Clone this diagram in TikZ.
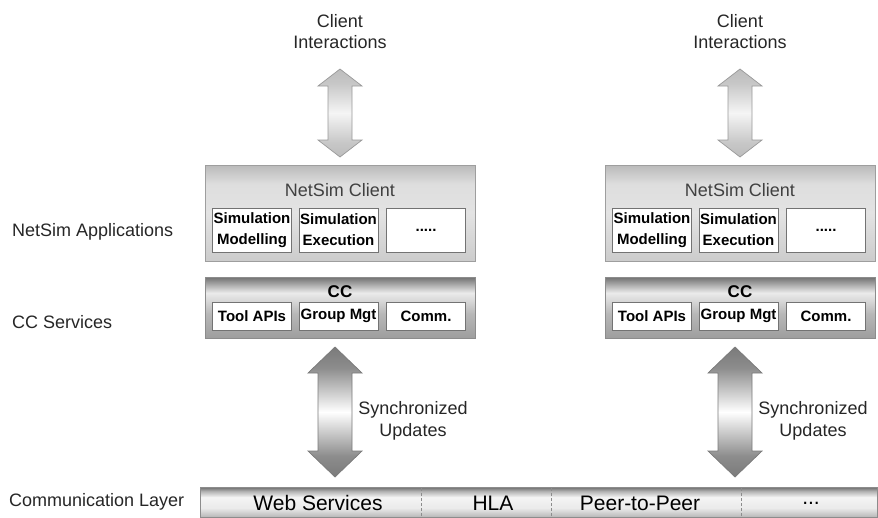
\documentclass[tikz,border=0pt]{standalone}
\usepackage{fontspec}
\setmainfont{Liberation Sans}
\usetikzlibrary{calc}
\pgfdeclareverticalshading{syncsh}{100bp}{color(0bp)=(black!52); color(25bp)=(black!52); color(33bp)=(black!45); color(50bp)=(white); color(67bp)=(black!45); color(75bp)=(black!52); color(100bp)=(black!52)}
\pgfdeclareverticalshading{clish}{100bp}{color(0bp)=(black!26); color(25bp)=(black!26); color(33bp)=(black!22); color(50bp)=(black!4); color(67bp)=(black!22); color(75bp)=(black!26); color(100bp)=(black!26)}
\pgfdeclareverticalshading{ccsh}{100bp}{color(0bp)=(black!38); color(25bp)=(black!38); color(45bp)=(black!28); color(62bp)=(black!8); color(75bp)=(black!56); color(100bp)=(black!56)}
\pgfdeclareverticalshading{nssh}{100bp}{color(0bp)=(black!20); color(25bp)=(black!20); color(50bp)=(black!11); color(65bp)=(black!13); color(75bp)=(black!27); color(100bp)=(black!27)}
\pgfdeclareverticalshading{barsh}{100bp}{color(0bp)=(black!28); color(25bp)=(black!28); color(40bp)=(black!8); color(58bp)=(black!4); color(68bp)=(black!30); color(75bp)=(black!58); color(100bp)=(black!58)}
\newcommand\dblarr[6]{%
  \path[#6] let \p1=(#1), \p2=(#2) in
    (\x1,\y1) -- (\x1+#3,\y1-#5) -- (\x1+#4,\y1-#5) -- (\x1+#4,\y2+#5)
    -- (\x1+#3,\y2+#5) -- (\x1,\y2) -- (\x1-#3,\y2+#5) -- (\x1-#4,\y2+#5)
    -- (\x1-#4,\y1-#5) -- (\x1-#3,\y1-#5) -- cycle;}
\begin{document}
\begin{tikzpicture}[x=1pt,y=-1pt,
  lbl/.style={font=\fontsize{18}{21}\selectfont, text=black!85, align=center, inner sep=0pt},
  synlbl/.style={font=\fontsize{18}{22}\selectfont, text=black!85, align=center, inner sep=0pt},
  ttl/.style={font=\fontsize{18}{21}\selectfont, text=black!75, inner sep=0pt},
  cct/.style={font=\fontsize{17}{19}\selectfont\bfseries, text=black, inner sep=0pt},
  nsbox/.style={draw=black!38, line width=0.8pt, shading=nssh, minimum width=270pt, minimum height=96pt, inner sep=0pt},
  ccbox/.style={draw=black!45, line width=0.8pt, shading=ccsh, minimum width=270pt, minimum height=61pt, inner sep=0pt},
  subbox/.style={draw=black!55, fill=white, line width=0.6pt, minimum width=79pt, inner sep=0pt, font=\fontsize{15}{21}\selectfont\bfseries, align=center},
  cliarr/.style={draw=black!40, line width=0.7pt, shading=clish},
  syncarr/.style={draw=black!52, line width=0.7pt, shading=syncsh},
  barbox/.style={draw=black!45, line width=0.7pt, shading=barsh, minimum width=677pt, minimum height=30pt, inner sep=0pt},
  bart/.style={font=\fontsize{21}{24}\selectfont, text=black, inner sep=0pt},
  sep/.style={draw=black!45, line width=0.7pt, dash pattern=on 3pt off 2pt}]
\useasboundingbox (0,0) rectangle (878,517);

% left row labels
\node[lbl, anchor=west] (lapp) at (12,232) {NetSim Applications};
\node[lbl, anchor=west] (lcc) at (12,322) {CC Services};
\node[lbl, anchor=west] (lcom) at (9,502) {Communication Layer};

\foreach \s/\i in {0/1,400/2}{
  \node[lbl] (ci\i) at ({340+\s},32) {Client\\Interactions};
  \coordinate (at\i) at ({340+\s},69);
  \coordinate (ab\i) at ({340+\s},157);
  \node[nsbox] (ns\i) at ({340+\s},213) {};
  \node[ttl] (nst\i) at ({340+\s},190) {NetSim Client};
  \node[subbox, minimum height=44pt] (sm\i) at ({252+\s},230) {Simulation\\Modelling};
  \node[subbox, minimum height=44pt] (se\i) at ({338.5+\s},230) {Simulation\\Execution};
  \node[subbox, minimum height=44pt] (sd\i) at ({426+\s},230) {.....};
  \node[ccbox] (cc\i) at ({340+\s},307.5) {};
  \node[cct] (cct\i) at ({340+\s},292) {CC};
  \node[subbox, minimum height=28pt] (ta\i) at ({252+\s},316) {Tool APIs};
  \node[subbox, minimum height=28pt] (gm\i) at ({338.5+\s},316) {Group Mgt};
  \node[subbox, minimum height=28pt] (co\i) at ({426+\s},316) {Comm.};
  \coordinate (st\i) at ({335+\s},347);
  \coordinate (sb\i) at ({335+\s},477);
  \node[synlbl] (su\i) at ({413+\s},421) {Synchronized\\Updates};
  \dblarr{at\i}{ab\i}{22pt}{12pt}{17pt}{cliarr}
  \dblarr{st\i}{sb\i}{27pt}{17pt}{26pt}{syncarr}
}

% communication layer bar
\node[barbox] (bar) at (538.5,502) {};
\draw[sep] (421,488) -- (421,517);
\draw[sep] (551,488) -- (551,517);
\draw[sep] (741,488) -- (741,517);
\node[bart] (ws) at (318,503) {Web Services};
\node[bart] (hla) at (493,503) {HLA};
\node[bart] (p2p) at (640,503) {Peer-to-Peer};
\node[bart] (etc) at (811,503) {...};
\end{tikzpicture}
\end{document}
